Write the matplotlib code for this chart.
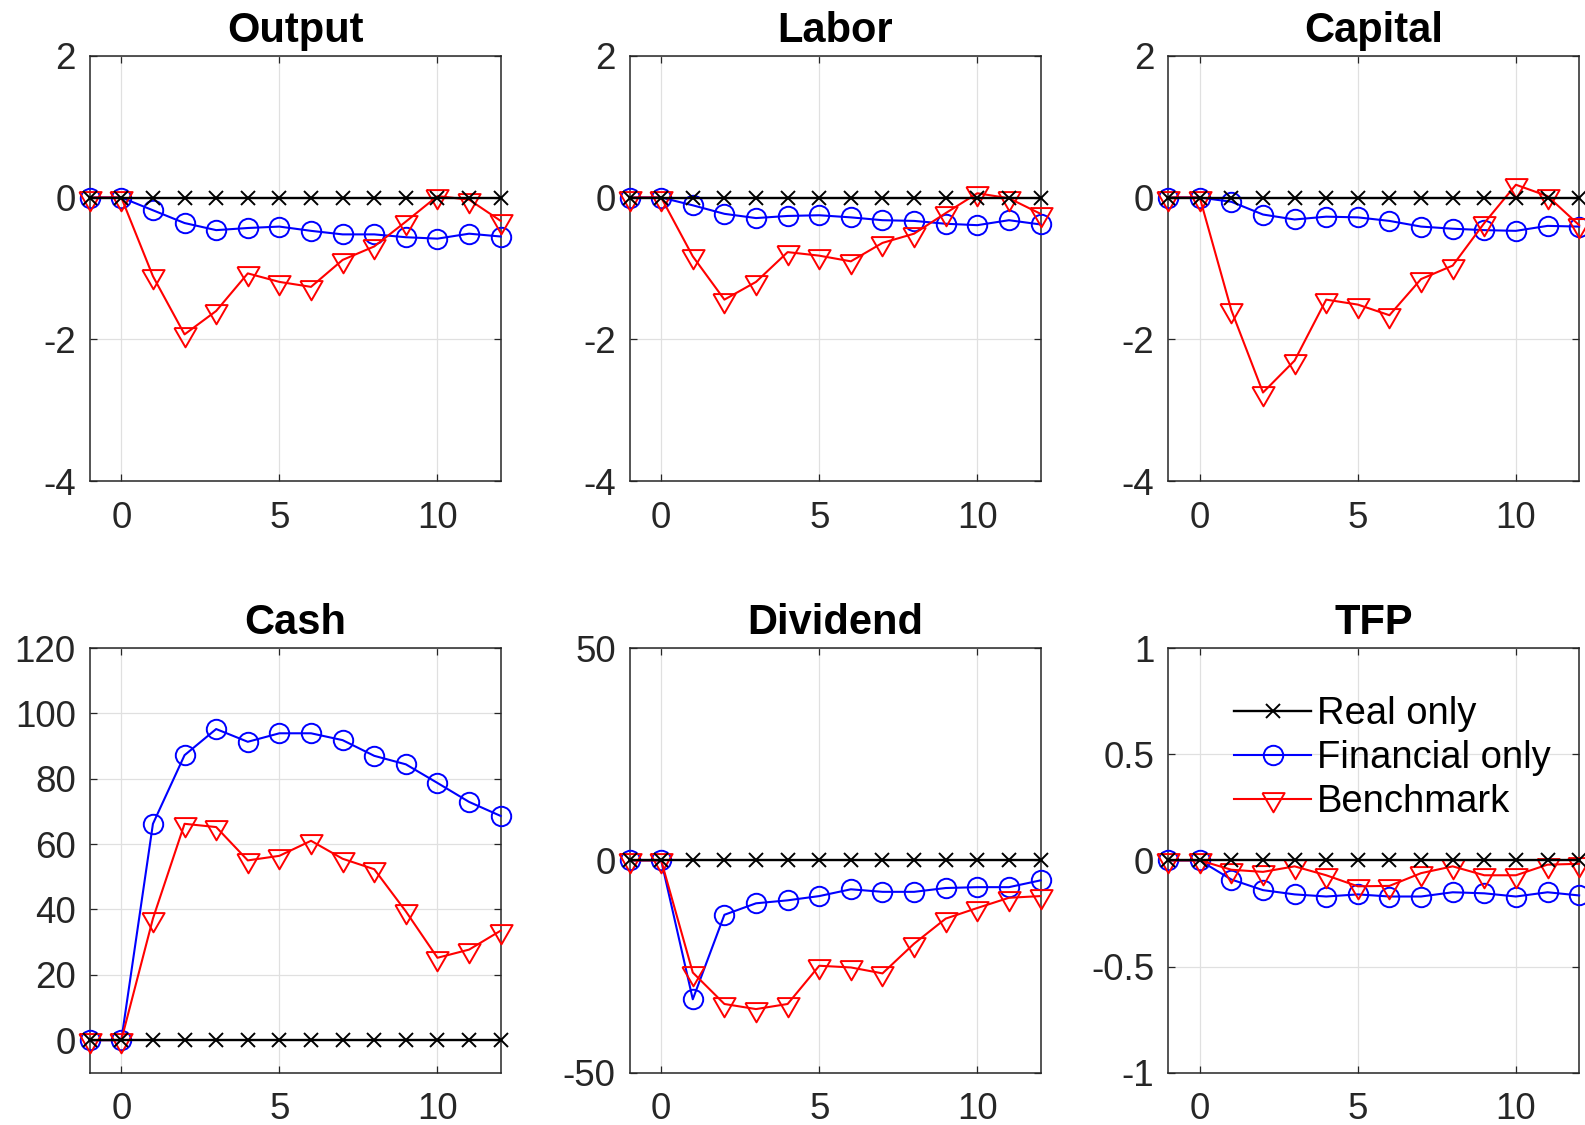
import matplotlib
matplotlib.use('Agg')
import matplotlib.pyplot as plt

plt.rcParams['font.family'] = 'Liberation Sans'

periods = [-1, 0, 1, 2, 3, 4, 5, 6, 7, 8, 9, 10, 11, 12]
real_only = [0, 0, 0, 0, 0, 0, 0, 0, 0, 0, 0, 0, 0, 0]

output_fin = [0, 0, -0.18, -0.36, -0.46, -0.43, -0.41, -0.47, -0.52, -0.52, -0.56, -0.58, -0.51, -0.55]
output_bench = [0, 0, -1.11, -1.93, -1.60, -1.07, -1.19, -1.26, -0.88, -0.69, -0.34, 0.02, -0.03, -0.33]

labor_fin = [0, 0, -0.11, -0.23, -0.29, -0.26, -0.25, -0.28, -0.32, -0.33, -0.37, -0.39, -0.32, -0.38]
labor_bench = [0, 0, -0.83, -1.44, -1.19, -0.77, -0.82, -0.90, -0.64, -0.51, -0.22, 0.06, -0.01, -0.23]

capital_fin = [0, 0, -0.06, -0.24, -0.31, -0.27, -0.28, -0.33, -0.41, -0.44, -0.46, -0.47, -0.40, -0.41]
capital_bench = [0, 0, -1.59, -2.75, -2.30, -1.44, -1.51, -1.66, -1.15, -0.96, -0.36, 0.18, 0.02, -0.39]

cash_fin = [0, 0, 66.2, 87.2, 95.2, 91.3, 93.9, 93.9, 91.8, 87.0, 84.4, 78.7, 72.9, 68.6]
cash_bench = [0, 0, 37.2, 66.2, 65.2, 55.0, 56.4, 61.0, 55.5, 52.3, 39.4, 25.2, 27.7, 33.5]

dividend_fin = [0, 0, -32.7, -12.8, -10.1, -9.4, -8.4, -6.8, -7.4, -7.4, -6.5, -6.3, -6.3, -4.7]
dividend_bench = [0, 0, -26.4, -33.8, -35.0, -33.8, -24.8, -25.2, -26.6, -19.6, -13.7, -11.2, -8.8, -8.4]

tfp_fin = [0, 0, -0.09, -0.14, -0.16, -0.17, -0.16, -0.17, -0.17, -0.15, -0.155, -0.17, -0.15, -0.165]
tfp_bench = [0, 0, -0.044, -0.054, -0.028, -0.07, -0.122, -0.12, -0.06, -0.028, -0.07, -0.07, -0.02, -0.016]

panels = [
    ('Output', output_fin, output_bench, (-4, 2), [-4, -2, 0, 2], ['-4', '-2', '0', '2']),
    ('Labor', labor_fin, labor_bench, (-4, 2), [-4, -2, 0, 2], ['-4', '-2', '0', '2']),
    ('Capital', capital_fin, capital_bench, (-4, 2), [-4, -2, 0, 2], ['-4', '-2', '0', '2']),
    ('Cash', cash_fin, cash_bench, (-10, 120), [0, 20, 40, 60, 80, 100, 120],
     ['0', '20', '40', '60', '80', '100', '120']),
    ('Dividend', dividend_fin, dividend_bench, (-50, 50), [-50, 0, 50], ['-50', '0', '50']),
    ('TFP', tfp_fin, tfp_bench, (-1, 1), [-1, -0.5, 0, 0.5, 1], ['-1', '-0.5', '0', '0.5', '1']),
]

# equilateral downward triangle, like MATLAB's 'v'
tri = [(-1, 0.577), (1, 0.577), (0, -1.155), (-1, 0.577)]

fig = plt.figure(figsize=(15.85, 11.25), dpi=100)

lefts = [0.0566, 0.3972, 0.7370]
bottoms = [0.5723, 0.0464]
heights = [0.3782, 0.3776]
width = 0.2593

for i, (name, fin, bench, ylim, yticks, ylabels) in enumerate(panels):
    row, col = divmod(i, 3)
    ax = fig.add_axes([lefts[col], bottoms[row], width, heights[row]])

    # markers are not clipped at the box edge
    h_fin, = ax.plot(periods, fin, color='blue', lw=1.5, marker='o', ms=14,
                     mfc='none', mew=1.4, zorder=3, clip_on=False)
    h_bench, = ax.plot(periods, bench, color='red', lw=1.5, marker=tri, ms=18.5,
                       mfc='none', mew=1.4, zorder=4, clip_on=False)
    h_real, = ax.plot(periods, real_only, color='black', lw=1.7, marker='x', ms=10,
                      mew=1.4, zorder=5, clip_on=False)

    ax.set_xlim(-1, 12)
    ax.set_ylim(*ylim)
    ax.set_xticks([0, 5, 10])
    ax.set_yticks(yticks)
    ax.set_yticklabels(ylabels)
    ax.grid(True, color='#e0e0e0', lw=0.9)
    ax.set_axisbelow(True)
    ax.tick_params(direction='in', length=5, width=0.9, colors='#262626',
                   labelsize=26.5, top=True, right=True)
    ax.tick_params(axis='x', pad=14)
    ax.tick_params(axis='y', pad=10)
    for sp in ax.spines.values():
        sp.set_color('#262626')
        sp.set_linewidth(1.1)
    ax.set_title(name, fontsize=30, fontweight='bold', pad=10)

    if name == 'TFP':
        ax.legend([h_real, h_fin, h_bench], ['Real only', 'Financial only', 'Benchmark'],
                  loc='upper left', bbox_to_anchor=(0.161, 0.887), frameon=False,
                  fontsize=27.5, handlelength=2.0, handletextpad=0.17,
                  labelspacing=0.215, borderpad=0, borderaxespad=0)

fig.savefig('out.png', dpi=100)
